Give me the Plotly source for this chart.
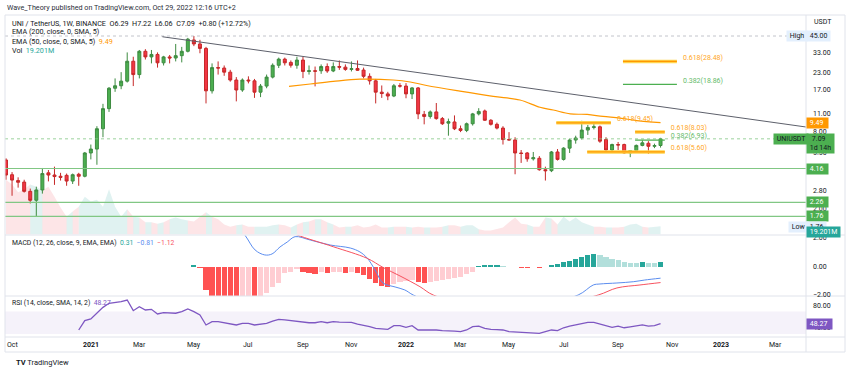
import numpy as np
import pandas as pd
import plotly.graph_objects as go

W, H = 850, 371
FONT = "Roboto, Arial, sans-serif"
TXT = "#131722"
SEP = "#e0e3eb"

# ---------------- data (UNI / TetherUS, 1W, Binance) ----------------
week0 = pd.Timestamp("2020-09-28")  # first weekly bar

opens = [4.85, 3.72, 3.35, 3.26, 2.76, 2.35, 2.83, 3.85, 3.70, 3.62,
         3.68, 3.32, 3.75, 3.62, 5.50, 5.90, 8.50, 12.2, 17.6, 18.4,
         20.0, 28.6, 22.5, 34.2, 30.9, 32.3, 27.8, 30.9, 30.3, 31.6,
         34.2, 41.9, 39.0, 36.0, 16.8, 25.5, 25.3, 23.5, 20.4, 17.05,
         20.4, 20.1, 16.4, 18.3, 21.5, 26.6, 29.7, 28.0, 26.6, 29.2,
         23.8, 24.1, 24.1, 26.0, 24.0, 26.0, 25.7, 24.7, 25.1, 24.4,
         21.8, 20.1, 16.4, 15.9, 15.3, 18.4, 18.3, 15.9, 17.7, 11.0,
         10.6, 11.5, 10.2, 9.4, 9.6, 8.5, 8.25, 9.3, 11.1, 11.7,
         9.9, 9.2, 8.6, 7.0, 6.95, 5.5, 5.5, 4.95, 5.0, 4.07,
         4.0, 5.6, 4.9, 6.0, 6.94, 7.2, 8.3, 8.7, 8.8, 7.0,
         5.8, 6.4, 6.4, 5.5, 5.75, 6.3, 6.55, 6.2, 6.29]
highs = [5.0, 3.90, 3.55, 3.40, 2.90, 3.00, 4.20, 4.05, 4.30, 3.85,
         3.80, 3.80, 3.85, 5.60, 6.40, 8.90, 13.3, 18.0, 21.0, 23.5,
         33.5, 31.0, 35.0, 35.5, 35.0, 33.5, 31.5, 32.0, 39.0, 37.0,
         43.5, 45.0, 42.0, 37.0, 27.5, 28.5, 26.5, 24.5, 21.5, 21.0,
         21.8, 20.8, 19.0, 22.5, 27.5, 30.5, 30.5, 29.0, 31.0, 31.0,
         26.5, 26.0, 27.0, 27.5, 28.0, 29.0, 27.0, 28.5, 29.0, 25.5,
         23.0, 20.8, 18.5, 16.5, 19.0, 19.3, 19.3, 18.0, 18.0, 11.7,
         11.8, 13.5, 10.5, 10.2, 10.8, 9.0, 9.5, 11.3, 12.3, 12.0,
         10.1, 9.5, 8.9, 8.0, 7.3, 5.8, 5.6, 5.6, 5.2, 4.3,
         5.7, 5.9, 6.1, 7.1, 7.5, 9.8, 9.1, 9.7, 9.0, 7.3,
         6.5, 6.7, 6.5, 5.8, 6.4, 6.9, 6.8, 6.5, 7.22]
lows = [3.40, 2.55, 2.95, 2.70, 2.22, 1.76, 2.65, 3.30, 3.10, 3.35,
        3.05, 3.15, 3.05, 3.55, 4.90, 4.45, 7.30, 11.5, 16.5, 17.3,
        19.5, 18.3, 21.0, 29.5, 27.5, 25.5, 26.5, 27.5, 28.5, 28.0,
        33.5, 37.5, 33.0, 13.4, 16.0, 22.5, 22.0, 19.8, 13.9, 16.5,
        19.2, 14.8, 15.0, 17.6, 21.0, 25.3, 26.5, 25.5, 25.0, 21.1,
        22.5, 18.2, 22.8, 23.2, 23.5, 24.5, 24.1, 23.8, 24.0, 21.0,
        18.8, 13.4, 14.8, 14.2, 15.0, 17.8, 14.7, 14.5, 10.1, 9.2,
        10.2, 10.0, 9.1, 7.5, 8.3, 8.0, 8.0, 9.0, 10.8, 9.8,
        9.0, 8.4, 6.4, 6.9, 3.75, 4.6, 4.7, 4.8, 4.0, 3.35,
        3.9, 4.8, 4.8, 5.5, 6.5, 7.0, 7.6, 8.4, 6.6, 5.7,
        5.6, 5.8, 5.4, 5.1, 5.5, 6.2, 5.4, 6.0, 6.06]
closes = [3.70, 3.38, 3.25, 2.76, 2.35, 2.83, 3.80, 3.70, 3.60, 3.55,
          3.32, 3.72, 3.62, 5.50, 5.90, 8.50, 12.2, 17.6, 18.4, 20.0,
          28.6, 22.5, 34.2, 30.9, 32.3, 27.8, 30.9, 30.3, 31.6, 34.2,
          42.5, 39.0, 36.0, 16.8, 25.5, 25.3, 23.5, 20.4, 17.05, 20.4,
          20.1, 16.4, 18.3, 21.5, 26.6, 29.7, 27.8, 26.6, 29.2, 23.8,
          24.1, 23.9, 26.0, 24.0, 26.0, 25.7, 24.7, 25.0, 24.3, 21.8,
          20.1, 16.4, 16.0, 15.3, 18.4, 18.3, 15.9, 17.7, 11.1, 10.6,
          11.5, 10.2, 9.3, 9.65, 8.5, 8.25, 9.3, 11.1, 11.6, 9.9,
          9.2, 8.6, 7.0, 6.95, 5.5, 5.45, 4.95, 5.05, 4.07, 4.0,
          5.6, 4.9, 6.0, 6.94, 7.2, 8.3, 8.7, 8.8, 6.8, 5.8,
          6.4, 6.35, 5.5, 5.75, 6.3, 6.6, 6.2, 6.29, 7.09]
volumes_m = [126, 115, 97, 104, 115, 110, 101, 110, 87, 62,
             41, 53, 64, 87, 76, 80, 64, 104, 64, 41,
             58, 41, 39, 28, 28, 25, 28, 35, 39, 35,
             32, 30, 41, 51, 41, 35, 23, 18, 21, 23,
             18, 18, 18, 18, 21, 23, 21, 16, 23, 28,
             30, 35, 35, 28, 23, 16, 18, 18, 21, 16,
             18, 23, 16, 16, 18, 18, 18, 16, 18, 16,
             16, 16, 18, 21, 21, 18, 21, 21, 12, 9,
             9, 12, 16, 28, 39, 25, 23, 18, 18, 39,
             37, 23, 41, 30, 39, 28, 23, 18, 18, 16,
             16, 16, 18, 23, 25, 18, 16, 18, 19.201]

# EMA 50 (smoothed) : (week index, value)
ema_weeks = [47.7, 51.2, 55, 59.4, 64.9, 67.7, 70.4, 75.9, 81.4, 85.8,
             89.1, 91.3, 94.1, 96.9, 99.5, 102.3, 105.1, 109]
ema_vals = [18.2, 19.0, 19.9, 20.7, 20.4, 19.7, 18.5, 16.7, 15.2, 14.25,
            12.5, 11.9, 11.1, 11.0, 10.6, 10.3, 9.84, 9.49]

# MACD (12, 26, 9)
hist_start = 32
hist = [0.10, -0.12, -1.65, -2.4, -2.8, -3.1, -3.3, -3.5, -3.3, -3.0,
        -3.2, -2.5, -1.88, -1.46, -1.17, -0.47, -0.35, -0.19, -0.35, -0.47,
        -0.52, -0.35, -0.47, -0.40, -0.36, -0.42, -0.38, -0.45, -0.60, -0.85,
        -1.15, -1.35, -1.42, -1.25, -1.10, -1.00, -0.95, -1.05, -1.13, -1.05,
        -1.00, -0.96, -0.90, -0.82, -0.71, -0.54, -0.35, 0.05, 0.10, 0.12,
        0.13, 0.05, 0.01, -0.05, -0.07, -0.08, -0.05, -0.08, -0.02, 0.09,
        0.19, 0.35, 0.42, 0.54, 0.71, 0.82, 0.89, 0.82, 0.66, 0.54,
        0.47, 0.35, 0.28, 0.27, 0.31, 0.28, 0.26, 0.31]
macd_weeks = [36, 38, 40.4, 42.1, 43.7, 44.9, 46.2, 47.4, 48.7, 51.2, 54.5,
              57.8, 59.4, 60.6, 61.9, 63.2, 65.2, 66.8, 68.2, 72, 80, 88,
              95.4, 97.9, 99, 101.8, 104.5, 106.4, 109]
macd_vals = [4.0, 3.4, 2.24, 1.18, 0.83, 0.9, 1.39, 1.74, 2.12, 1.88, 1.53,
             1.32, 1.04, 0.61, -0.23, -1.15, -1.43, -1.64, -2.0, -2.6, -3.0, -2.7,
             -2.0, -1.29, -1.22, -1.15, -1.06, -0.94, -0.81]
sig_weeks = [45, 47, 49, 55, 60.6, 63.2, 66, 69.3, 71.5, 80, 90, 98.7,
             101.8, 105.6, 109]
sig_vals = [3.0, 2.6, 2.24, 1.41, 0.59, -0.05, -0.65, -1.41, -2.0, -2.9, -2.8,
            -2.0, -1.5, -1.29, -1.12]

# RSI (14)
rsi_start = 13
rsi = [37, 53.7, 56.7, 68, 77.6, 84.8, 86, 88, 90.7, 71.6,
       78.7, 72.8, 74, 65.7, 68, 67, 67, 69.8, 74.6, 69.8,
       63.9, 46, 51.9, 51.9, 50, 48, 46, 49, 49, 46,
       47, 49, 53, 56, 55, 53.7, 52, 50, 50, 50,
       52, 50, 52, 51, 51, 50.8, 47.7, 46, 43, 40,
       39, 38.2, 44.7, 44.7, 41.8, 44.7, 37, 37, 38, 37,
       35.8, 35.8, 35, 34, 37, 43, 44, 40, 38, 37.5,
       37, 34, 33.5, 33, 32.5, 32, 31, 34, 37, 35.8,
       41, 44, 46, 49, 50.8, 50.8, 48, 44, 41.8, 44,
       41, 42.5, 44, 46, 44, 44.7, 48.27]

# drawings
trend_weeks = [26.8, 133.0]
trend_vals = [44.4, 8.77]
hlines = [4.16, 2.26, 1.76]
fib_ratio = ["0.618", "0.382", "0.618", "0.618", "0.382", "0.618"]
fib_level = [28.48, 18.86, 9.45, 8.03, 6.93, 5.60]
fib_from = [102.8, 102.8, 91.8, 104.8, 104.8, 96.9]
fib_to = [111.7, 111.7, 100.8, 109.7, 109.7, 109.7]

# axis labels
x_tick_dates = ["2020-10-05", "2021-01-04", "2021-03-01", "2021-05-03", "2021-07-05",
                "2021-09-06", "2021-11-01", "2022-01-03", "2022-03-07", "2022-05-02",
                "2022-07-04", "2022-09-05", "2022-11-07", "2023-01-02", "2023-03-06"]
x_tick_text = ["Oct", "2021", "Mar", "May", "Jul", "Sep", "Nov", "2022", "Mar", "May",
               "Jul", "Sep", "Nov", "2023", "Mar"]
price_ticks = [33, 23, 17, 11, 8, 5.5, 2.8, 2.0]
macd_ticks = [2, 0, -2]
rsi_ticks = [80, 40]

# ---------------- helpers ----------------
def wk(idx):
    return week0 + pd.Timedelta(days=7 * (idx - 1))

def px(x):
    return x / W

def py(y):
    return 1 - y / H

n = len(opens)
dates = [wk(i + 1) for i in range(n)]
x_range = [wk(0.835), wk(133.0)]

UP, DN = "#4caf50", "#f23645"
UP_LINE, DN_LINE = "#3d8b40", "#c62828"

fig = go.Figure()

# volume (base axis y)
vol_up = "rgba(38,166,154,0.14)"
vol_dn = "rgba(242,54,69,0.13)"
dirs = [c >= o for o, c in zip(opens, closes)]
runs = []
cur = [0]
for i in range(1, n):
    if len(cur) > 1 and dirs[i] == dirs[cur[-1]]:
        cur.append(i)
    else:
        if len(cur) > 1:
            runs.append(cur)
        cur = [i - 1, i]
runs.append(cur)
for r in runs:
    col = vol_up if dirs[r[-1]] else vol_dn
    fig.add_trace(go.Scatter(
        x=[dates[k] for k in r], y=[volumes_m[k] for k in r],
        xaxis="x", yaxis="y", mode="lines", line=dict(width=0),
        fill="tozeroy", fillcolor=col, hoverinfo="skip", showlegend=False))

# horizontal support lines
for lv in hlines:
    fig.add_trace(go.Scatter(x=x_range, y=[lv, lv], xaxis="x", yaxis="y2", mode="lines",
                             line=dict(color="#81c784", width=1.2), hoverinfo="skip",
                             showlegend=False))
# high and last price dotted lines
fig.add_trace(go.Scatter(x=x_range, y=[max(highs)] * 2, xaxis="x", yaxis="y2", mode="lines",
                         line=dict(color="#b2b5be", width=0.8, dash="dot"), showlegend=False))
fig.add_trace(go.Scatter(x=x_range, y=[closes[-1]] * 2, xaxis="x", yaxis="y2", mode="lines",
                         line=dict(color="#81c784", width=0.8, dash="dot"), showlegend=False))

# trend line
fig.add_trace(go.Scatter(x=[wk(w) for w in trend_weeks], y=trend_vals, xaxis="x", yaxis="y2",
                         mode="lines", line=dict(color="#5d606b", width=1), showlegend=False))

# EMA 50
fig.add_trace(go.Scatter(x=[wk(w) for w in ema_weeks], y=ema_vals, xaxis="x", yaxis="y2",
                         mode="lines", line=dict(color="#ff9800", width=1.2, shape="spline"),
                         showlegend=False))

# candles
fig.add_trace(go.Candlestick(
    x=dates, open=opens, high=highs, low=lows, close=closes, xaxis="x", yaxis="y2",
    increasing=dict(fillcolor=UP, line=dict(color=UP_LINE, width=1)),
    decreasing=dict(fillcolor=DN, line=dict(color=DN_LINE, width=1)),
    whiskerwidth=0, showlegend=False))

# fib levels
for r, lv, a, b in zip(fib_ratio, fib_level, fib_from, fib_to):
    col = "#ff9800" if r == "0.618" else "#4caf50"
    if r == "0.618":
        fig.add_trace(go.Scatter(x=[wk(a), wk(b)], y=[lv, lv], xaxis="x", yaxis="y2",
                                 mode="lines", line=dict(color="#ffd54f", width=3.5),
                                 showlegend=False))
    fig.add_trace(go.Scatter(x=[wk(a), wk(b)], y=[lv, lv], xaxis="x", yaxis="y2",
                             mode="lines", line=dict(color=col, width=1.3), showlegend=False))
    fig.add_trace(go.Scatter(x=[wk(b + 1.0)], y=[lv], xaxis="x", yaxis="y2", mode="text",
                             text=[f"{r}({lv:.2f})"], textposition="top right",
                             textfont=dict(color="#ffa726" if r == "0.618" else "#66bb6a",
                                           size=7, family=FONT),
                             showlegend=False))

# MACD
hcols = []
for k, v in enumerate(hist):
    prev = hist[k - 1] if k > 0 else -1e9
    if v >= 0:
        hcols.append("#26a69a" if v > prev else "#b2dfdb")
    else:
        hcols.append("#ffcdd2" if v > prev else "#ff5252")
fig.add_trace(go.Bar(x=[wk(hist_start + k) for k in range(len(hist))], y=hist,
                     xaxis="x", yaxis="y3", marker=dict(color=hcols, line=dict(width=0)),
                     width=7 * 86400000 * 0.86, showlegend=False))
fig.add_trace(go.Scatter(x=[wk(w) for w in macd_weeks], y=macd_vals, xaxis="x", yaxis="y3",
                         mode="lines", line=dict(color="#5b8def", width=1, shape="spline"),
                         showlegend=False))
fig.add_trace(go.Scatter(x=[wk(w) for w in sig_weeks], y=sig_vals, xaxis="x", yaxis="y3",
                         mode="lines", line=dict(color="#f7525f", width=1, shape="spline"),
                         showlegend=False))

# RSI
fig.add_trace(go.Scatter(x=[wk(rsi_start + k) for k in range(len(rsi))], y=rsi,
                         xaxis="x", yaxis="y4", mode="lines",
                         line=dict(color="#7e57c2", width=1.3), showlegend=False))

# ---------------- layout ----------------
main_dom = [py(234.5), py(15)]
macd_dom = [py(296), py(235.5)]
rsi_dom = [py(337), py(296.5)]
hidden = dict(showgrid=False, zeroline=False, showticklabels=False, showline=False,
              ticks="", fixedrange=True)

shapes = [
    dict(type="rect", xref="paper", yref="y4", x0=px(5), x1=px(806), y0=30, y1=70,
         fillcolor="rgba(126,87,194,0.08)", line=dict(width=0), layer="below"),
]
for yy in [15, 235, 296, 337, 352]:
    shapes.append(dict(type="line", xref="paper", yref="paper", x0=px(5), x1=px(845),
                       y0=py(yy), y1=py(yy), line=dict(color=SEP, width=1)))
for xx in [5, 806, 845]:
    shapes.append(dict(type="line", xref="paper", yref="paper", x0=px(xx), x1=px(xx),
                       y0=py(15), y1=py(352), line=dict(color=SEP, width=1)))

ann = []
def text_at(x, y, t, size=7, color=TXT, anchor="left"):
    ann.append(dict(xref="paper", yref="paper", x=px(x), y=py(y), text=t, showarrow=False,
                    xanchor=anchor, yanchor="middle", font=dict(size=size, color=color, family=FONT)))

text_at(5, 7.5, "Wave_Theory published on TradingView.com, Oct 29, 2022 12:16 UTC+2", 7.2, "#2a2e39")
text_at(10, 23.3, f"UNI / TetherUS, 1W, BINANCE  O{opens[-1]:.2f}  H{highs[-1]:.2f}  "
                  f"L{lows[-1]:.2f}  C{closes[-1]:.2f}  +0.80 (+12.72%)", 7.2)
text_at(10, 32, "EMA (200, close, 0, SMA, 5)", 7.2)
text_at(10, 41.5, f"EMA (50, close, 0, SMA, 5)  <span style='color:#ff9800'>{ema_vals[-1]:.2f}</span>", 7.2)
text_at(10, 50.5, f"Vol  <span style='color:#26a69a'>{volumes_m[-1]:.3f}M</span>", 7.2)
text_at(10, 243.3, "MACD (12, 26, close, 9, EMA, EMA)  <span style='color:#26a69a'>0.31</span>  "
                   "<span style='color:#5b8def'>\u22120.81</span>  <span style='color:#f7525f'>\u22121.12</span>", 6.8)
text_at(10, 303.3, f"RSI (14, close, SMA, 14, 2)  <span style='color:#7e57c2'>{rsi[-1]:.2f}</span>", 6.8)
text_at(14, 362, "<b>TV</b> TradingView", 7.5, "#131722")
text_at(812, 21.7, "USDT", 7)

for d, t in zip(x_tick_dates, x_tick_text):
    ann.append(dict(xref="x", yref="paper", x=d, y=py(345), text=(f"<b>{t}</b>" if t.isdigit() else t),
                    showarrow=False, xanchor="center", yanchor="middle",
                    font=dict(size=7, color=TXT, family=FONT)))

def ylab(yref, yv, t, bg=None, color=TXT, x=811, yshift=0, pad=1):
    d = dict(xref="paper", x=px(x), xanchor="left", yref=yref, y=yv, yanchor="middle",
             text=t, showarrow=False, font=dict(size=7, color=color, family=FONT),
             borderpad=pad, yshift=yshift)
    if bg:
        d["bgcolor"] = bg
    ann.append(d)

for v in price_ticks:
    ylab("y2", np.log10(v), f"{v:.2f}")
for v in macd_ticks:
    ylab("y3", v, f"{v:.2f}".replace("-", "\u2212"))
for v in rsi_ticks:
    ylab("y4", v, f"{v:.2f}")

NB = "\u00a0"
ylab("y2", np.log10(max(highs)), f"{NB}{max(highs):.2f}{NB}", bg="#e3effd", x=806)
ylab("y2", np.log10(max(highs)), f"{NB}High{NB}", bg="#e3effd", x=786)
ylab("y2", np.log10(ema_vals[-1]), f"{NB}{ema_vals[-1]:.2f}{NB}{NB}", bg="#ff9800", color="white", x=806)
ylab("y2", np.log10(closes[-1]), f"{NB}{closes[-1]:.2f}{NB}{NB}{NB}<br>{NB}1d 14h{NB}", bg="#4caf50", color=TXT, x=806, yshift=-5)
ylab("y2", np.log10(closes[-1]), f"{NB}UNIUSDT{NB}", bg="#4caf50", color=TXT, x=773)
for lv in hlines:
    ylab("y2", np.log10(lv), f"{NB}{lv:.2f}{NB}{NB}", bg="#4caf50", color="white", x=806)
ylab("y2", np.log10(min(lows)), f"{NB}{min(lows):.2f}{NB}", bg="#e3effd", x=806, yshift=-10.5)
ylab("y2", np.log10(min(lows)), f"{NB}Low{NB}", bg="#e3effd", x=788, yshift=-10.5)
ann.append(dict(xref="paper", x=px(806), xanchor="left", yref="paper", y=py(231.5), yanchor="middle",
                text=f"{NB}{volumes_m[-1]:.3f}M{NB}", showarrow=False, bgcolor="#26a69a",
                font=dict(size=7, color="white", family=FONT), borderpad=1))
ylab("y4", rsi[-1], f"{NB}{rsi[-1]:.2f}{NB}{NB}", bg="#7e57c2", color="white", x=806)

fig.update_layout(
    width=W, height=H, autosize=False,
    margin=dict(l=0, r=0, t=0, b=0),
    paper_bgcolor="white", plot_bgcolor="rgba(0,0,0,0)",
    showlegend=False, bargap=0,
    xaxis=dict(domain=[px(5), px(806)], range=x_range, type="date",
               rangeslider=dict(visible=False), anchor="y", **hidden),
    yaxis=dict(domain=main_dom, range=[0, 219.5 * 2.3], **hidden),
    yaxis2=dict(overlaying="y", type="log", range=[0.10411, 1.81708], anchor="x", **hidden),
    yaxis3=dict(domain=macd_dom, range=[-2.068, 2.202], anchor="x", **hidden),
    yaxis4=dict(domain=rsi_dom, range=[24.44, 97.03], anchor="x", **hidden),
    shapes=shapes, annotations=ann,
    font=dict(family=FONT, color=TXT),
)

fig.write_html("out.html", config={"staticPlot": True},
               post_script="document.body.style.margin='0px';document.body.style.overflow='hidden';")
